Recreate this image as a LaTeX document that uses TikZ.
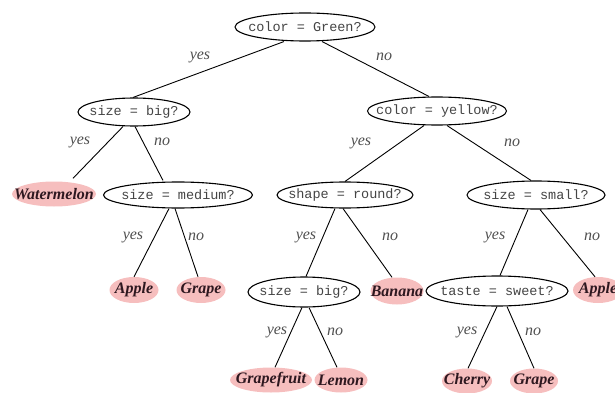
\documentclass[tikz,border=0pt]{standalone}
\usepackage{fontspec}
\setmainfont{Liberation Serif}
\setmonofont{Liberation Mono}
\usetikzlibrary{shapes.geometric}
\definecolor{leafpink}{HTML}{F6BEBE}
\definecolor{leaftext}{HTML}{2E1820}
\definecolor{dectext}{HTML}{444444}
\definecolor{lbltext}{HTML}{505050}
\tikzset{
  dec/.style={ellipse, draw=black, line width=1.1pt, minimum height=28pt, inner sep=0pt,
    minimum width=#1},
  dectxt/.style={text=dectext, font=\ttfamily\fontsize{13.5}{14}\selectfont, inner sep=0pt},
  leaf/.style={ellipse, fill=leafpink, minimum height=25pt, inner sep=0pt, minimum width=#1},
  leaftxt/.style={text=leaftext, font=\bfseries\itshape\fontsize{16}{17}\selectfont, inner sep=0pt},
  lbl/.style={text=lbltext, font=\itshape\fontsize{16}{17}\selectfont, inner sep=0pt},
  edge/.style={draw=black, line width=0.9pt}
}
\begin{document}
\begin{tikzpicture}[x=1pt,y=-1pt]
\useasboundingbox (0,0) rectangle (615,393);
\clip (0,0) rectangle (615,393);
% decision nodes
\node[dec=140pt] (root) at (305,27) {};
\node[dectxt] at (root) {color = Green?};
\node[dec=112pt] (L) at (134,112) {};
\node[dectxt] at (L) {size = big?};
\node[dec=139pt] (R) at (437,111) {};
\node[dectxt] at (R) {color = yellow?};
\node[dec=149pt, minimum height=26pt] (med) at (178,195) {};
\node[dectxt] at (med) {size = medium?};
\node[dec=136pt, minimum height=26pt] (shape) at (345,195) {};
\node[dectxt] at (shape) {shape = round?};
\node[dec=138pt] (small) at (536,195) {};
\node[dectxt] at (small) {size = small?};
\node[dec=112pt, minimum height=30pt] (big2) at (304,292) {};
\node[dectxt] at (big2) {size = big?};
\node[dec=142pt, minimum height=30pt] (taste) at (497,291) {};
\node[dectxt] at (taste) {taste = sweet?};
% leaves
\node[leaf=84pt] (water) at (54,194) {};
\node[leaftxt] at (water) {Watermelon};
\node[leaf=49pt, minimum height=26pt] (apple) at (134,290) {};
\node[leaftxt] at (apple) {Apple};
\node[leaf=49pt, minimum height=26pt] (grape) at (201,290) {};
\node[leaftxt] at (grape) {Grape};
\node[leaf=53pt, minimum height=27pt] (banana) at (397,291) {};
\node[leaftxt] at (banana) {Banana};
\node[leaf=50pt, minimum height=26pt] (apple2) at (598,290) {};
\node[leaftxt] at (apple2) {Apple};
\node[leaf=82pt] (gfruit) at (271,380) {};
\node[leaftxt] at (gfruit) {Grapefruit};
\node[leaf=53pt] (lemon) at (341,380) {};
\node[leaftxt] at (lemon) {Lemon};
\node[leaf=50pt] (cherry) at (467,381) {};
\node[leaftxt] at (cherry) {Cherry};
\node[leaf=48pt] (grape2) at (534,381) {};
\node[leaftxt] at (grape2) {Grape};
% connectors
\draw[edge] ([xshift=-21pt]root.south) -- ([xshift=-1pt]L.north);
\draw[edge] ([xshift=17pt]root.south) -- ([xshift=-8pt]R.north);
\draw[edge] ([xshift=-11pt]L.south) -- ([xshift=19pt,yshift=3pt]water.north);
\draw[edge] ([xshift=1pt]L.south) -- ([xshift=-15pt,yshift=1pt]med.north);
\draw[edge] ([xshift=-13pt]R.south) -- (shape.north);
\draw[edge] ([xshift=10pt]R.south) -- ([xshift=-5pt]small.north);
\draw[edge] ([xshift=-9pt]med.south) -- (apple.north);
\draw[edge] ([xshift=-3pt]med.south) -- ([xshift=-3pt]grape.north);
\draw[edge] ([xshift=-10pt]shape.south) -- ([xshift=2pt]big2.north);
\draw[edge] ([xshift=-2pt]shape.south) -- ([xshift=-5pt]banana.north);
\draw[edge] ([xshift=-8pt]small.south) -- ([xshift=3pt]taste.north);
\draw[edge] ([xshift=4pt]small.south) -- ([xshift=-3pt]apple2.north);
\draw[edge] ([xshift=-2pt]big2.south) -- ([xshift=4pt]gfruit.north);
\draw[edge] ([xshift=5pt]big2.south) -- ([xshift=-4pt]lemon.north);
\draw[edge] (taste.south) -- ([xshift=1pt]cherry.north);
\draw[edge] ([xshift=10pt]taste.south) -- (grape2.north);
% labels
\node[lbl] (y0) at (200,57) {yes};
\node[lbl] (n0) at (384,57) {no};
\node[lbl] (y1) at (80,142) {yes};
\node[lbl] (n1) at (162,142) {no};
\node[lbl] (y2) at (361,143) {yes};
\node[lbl] (n2) at (512,143) {no};
\node[lbl] (y3) at (133,237) {yes};
\node[lbl] (n3) at (196,237) {no};
\node[lbl] (y4) at (306,237) {yes};
\node[lbl] (n4) at (390,237) {no};
\node[lbl] (y5) at (495,237) {yes};
\node[lbl] (n5) at (592,237) {no};
\node[lbl] (y6) at (277,332) {yes};
\node[lbl] (n6) at (335,332) {no};
\node[lbl] (y7) at (467,332) {yes};
\node[lbl] (n7) at (533,332) {no};
\end{tikzpicture}
\end{document}
